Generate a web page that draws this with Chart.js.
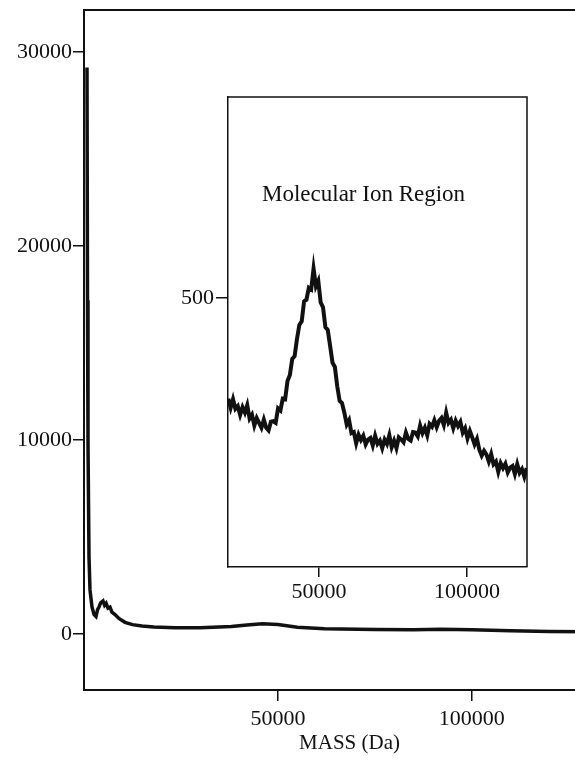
<!DOCTYPE html>
<html>
<head>
<meta charset="utf-8">
<script src="https://cdn.jsdelivr.net/npm/chart.js@4"></script>
<style>
  html, body { margin: 0; padding: 0; background: #fff; overflow: hidden; width: 575px; height: 762px; }
  #main { position: absolute; left: 0; top: 0; }
  #inset { position: absolute; left: 150px; top: 80px; }
</style>
</head>
<body>
<canvas id="main" width="615" height="762"></canvas>
<canvas id="inset" width="400" height="540"></canvas>
<script>
// full spectrum, mass (Da) vs intensity
const mainMass = [773, 902, 1031, 1289, 1547, 2062, 2600, 3094, 3500, 3867, 4300, 4898, 5300, 5700, 6187, 6700, 7200, 7992, 9000, 10570, 12500, 14950, 18000, 23460, 30000, 38000, 42000, 46000, 50000, 55000, 62000, 75000, 85000, 92000, 100000, 110000, 120000, 130000, 136900];
const mainIntensity = [29200, 17200, 9850, 3970, 2270, 1390, 1000, 900, 1250, 1390, 1600, 1700, 1480, 1580, 1330, 1380, 1120, 1000, 800, 600, 480, 410, 360, 320, 320, 380, 460, 530, 490, 340, 270, 230, 210, 240, 220, 170, 130, 110, 100];
const mainXTicks = [50000, 100000];
const mainYTicks = [0, 10000, 20000, 30000];

// molecular ion region (inset)
const insetMass = [
  19400, 20200, 21000, 21800, 22600, 23400, 24200, 25000, 25800, 26600,
  27400, 28200, 29000, 29800, 30600, 31400, 32200, 33000, 33800, 34600,
  35400, 36200, 37000, 37800, 38600, 39400, 40200, 41000, 41800, 42600,
  43400, 44200, 45000, 45800, 46600, 47400, 48200, 49000, 49800, 50600,
  51400, 52200, 53000, 53800, 54600, 55400, 56200, 57000, 57800, 58600,
  59400, 60200, 61000, 61800, 62600, 63400, 64200, 65000, 65800, 66600,
  67400, 68200, 69000, 69800, 70600, 71400, 72200, 73000, 73800, 74600,
  75400, 76200, 77000, 77800, 78600, 79400, 80200, 81000, 81800, 82600,
  83400, 84200, 85000, 85800, 86600, 87400, 88200, 89000, 89800, 90600,
  91400, 92200, 93000, 93800, 94600, 95400, 96200, 97000, 97800, 98600,
  99400, 100200, 101000, 101800, 102600, 103400, 104200, 105000, 105800, 106600,
  107400, 108200, 109000, 109800, 110600, 111400, 112200, 113000, 113800, 114600,
  115400, 116200, 117000, 117800, 118600, 119400, 120200
];
const insetIntensity = [
  313, 296, 312, 294, 299, 283, 297, 287, 301, 276,
  283, 263, 277, 268, 259, 274, 259, 254, 270, 271,
  268, 295, 291, 313, 312, 346, 357, 387, 392, 424,
  450, 457, 494, 497, 519, 516, 555, 522, 532, 492,
  483, 446, 441, 411, 380, 372, 336, 309, 305, 287,
  265, 273, 249, 251, 230, 246, 236, 244, 228, 237,
  240, 226, 244, 229, 235, 221, 237, 229, 245, 223,
  235, 221, 241, 237, 232, 250, 238, 235, 251, 250,
  243, 263, 249, 259, 245, 266, 261, 273, 260, 272,
  277, 264, 287, 268, 274, 258, 272, 262, 270, 250,
  258, 239, 253, 241, 228, 238, 218, 207, 216, 209,
  196, 210, 191, 196, 177, 193, 184, 192, 176, 185,
  188, 173, 191, 175, 182, 168, 184
];
const insetXTicks = [50000, 100000];
const insetYTicks = [500];

const FONT = "'Liberation Serif', 'DejaVu Serif', serif";
const INK = "#111";

function toPoints(xs, ys) {
  return xs.map((x, i) => ({ x: x, y: ys[i] }));
}

function fixSize(prop, value) {
  return function (scale) {
    scale[prop] = value;
    scale.paddingTop = 0;
    scale.paddingBottom = 0;
    scale.paddingLeft = 0;
    scale.paddingRight = 0;
  };
}

// draws the frame lines that Chart.js doesn't give us
const frame = {
  id: "frame",
  afterDraw(chart, args, opts) {
    const { ctx, chartArea: a } = chart;
    ctx.save();
    ctx.strokeStyle = INK;
    ctx.lineWidth = opts.width || 2;
    ctx.beginPath();
    ctx.moveTo(a.left, a.top);
    ctx.lineTo(a.right, a.top);
    if (opts.right) ctx.lineTo(a.right, a.bottom);
    ctx.stroke();
    if (opts.label) {
      ctx.fillStyle = INK;
      ctx.font = "23px " + FONT;
      ctx.textAlign = "left";
      ctx.textBaseline = "middle";
      ctx.fillText(opts.label, opts.lx, opts.ly);
    }
    ctx.restore();
  },
};

new Chart(document.getElementById("main").getContext("2d"), {
  type: "line",
  data: {
    datasets: [{
      data: toPoints(mainMass, mainIntensity),
      borderColor: INK,
      borderWidth: 3.5,
      pointRadius: 0,
      tension: 0,
      fill: false,
    }],
  },
  options: {
    responsive: false,
    animation: false,
    layout: { padding: { top: 10, left: 0, right: 0, bottom: 0 } },
    plugins: { legend: { display: false }, tooltip: { enabled: false }, frame: { width: 2 } },
    scales: {
      x: {
        type: "linear",
        min: 0,
        max: 136900,
        afterBuildTicks: (s) => { s.ticks = mainXTicks.map((v) => ({ value: v })); },
        afterFit: fixSize("height", 72),
        grid: { drawOnChartArea: false, drawTicks: true, tickLength: 11, color: INK, lineWidth: 1.5 },
        border: { display: true, color: INK, width: 2 },
        ticks: { color: INK, font: { family: FONT, size: 22 }, padding: 5, maxRotation: 0, callback: (v) => String(v) },
        title: { display: true, text: "MASS (Da)", color: INK, font: { family: FONT, size: 21 }, padding: { top: 0, bottom: 6 } },
      },
      y: {
        type: "linear",
        min: -2890,
        max: 32170,
        afterBuildTicks: (s) => { s.ticks = mainYTicks.map((v) => ({ value: v })); },
        afterFit: fixSize("width", 84),
        grid: { drawOnChartArea: false, drawTicks: true, tickLength: 11, color: INK, lineWidth: 1.5 },
        border: { display: true, color: INK, width: 2 },
        ticks: { color: INK, font: { family: FONT, size: 22 }, padding: 1, callback: (v) => String(v) },
      },
    },
  },
  plugins: [frame],
});

new Chart(document.getElementById("inset").getContext("2d"), {
  type: "line",
  data: {
    datasets: [{
      data: toPoints(insetMass, insetIntensity),
      borderColor: INK,
      borderWidth: 4,
      pointRadius: 0,
      tension: 0,
      fill: false,
    }],
  },
  options: {
    responsive: false,
    animation: false,
    layout: { padding: { top: 17, left: 0, right: 23, bottom: 0 } },
    plugins: {
      legend: { display: false },
      tooltip: { enabled: false },
      frame: { width: 1.5, right: true, label: "Molecular Ion Region", lx: 112, ly: 115 },
    },
    scales: {
      x: {
        type: "linear",
        min: 19300,
        max: 120300,
        afterBuildTicks: (s) => { s.ticks = insetXTicks.map((v) => ({ value: v })); },
        afterFit: fixSize("height", 53),
        grid: { drawOnChartArea: false, drawTicks: true, tickLength: 10, color: INK, lineWidth: 1.5 },
        border: { display: true, color: INK, width: 1.5 },
        ticks: { color: INK, font: { family: FONT, size: 22 }, padding: 2, maxRotation: 0, callback: (v) => String(v) },
      },
      y: {
        type: "linear",
        min: 0,
        max: 874,
        afterBuildTicks: (s) => { s.ticks = insetYTicks.map((v) => ({ value: v })); },
        afterFit: fixSize("width", 78),
        grid: { drawOnChartArea: false, drawTicks: true, tickLength: 12, color: INK, lineWidth: 1.5 },
        border: { display: true, color: INK, width: 1.5 },
        ticks: { color: INK, font: { family: FONT, size: 22 }, padding: 2, callback: (v) => String(v) },
      },
    },
  },
  plugins: [frame],
});
</script>
</body>
</html>
